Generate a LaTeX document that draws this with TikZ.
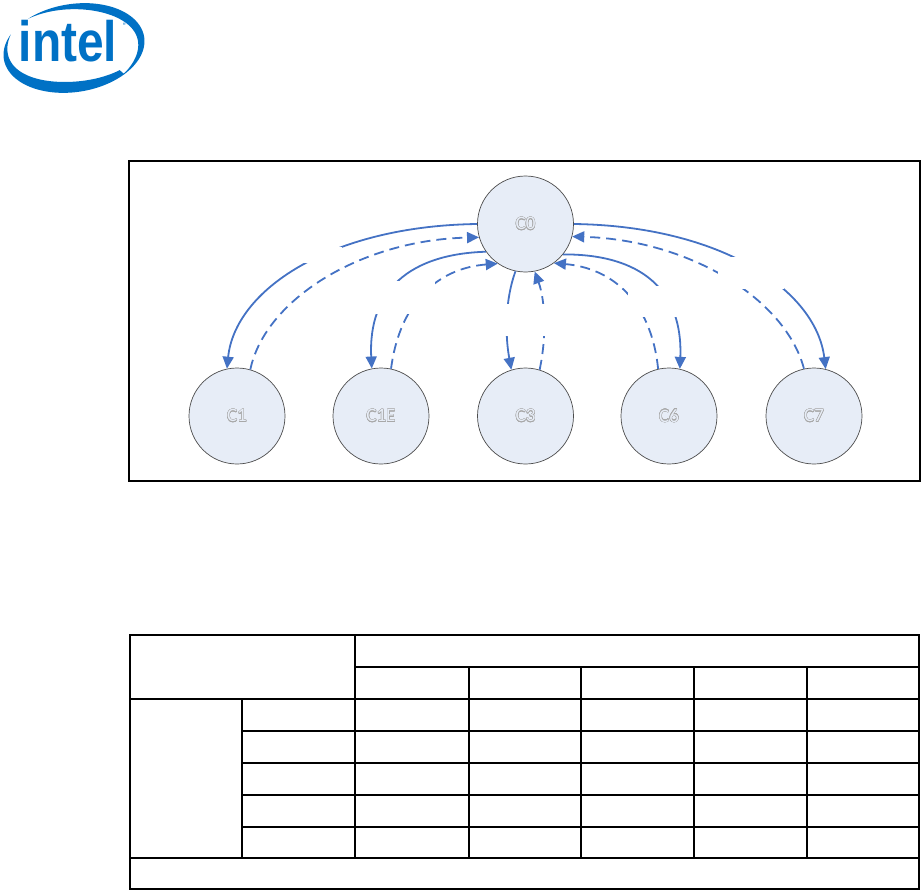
\documentclass[tikz,border=0pt]{standalone}
\usepackage{fontspec}
\setmainfont{Carlito}
\newfontfamily\intelfont{Liberation Sans}
\usepackage{contour}
\contourlength{0.4pt}
\usetikzlibrary{arrows.meta}
\definecolor{intelblue}{HTML}{0071C5}
\definecolor{arrowblue}{HTML}{4472C4}
\definecolor{statefill}{HTML}{E7EDF7}
\definecolor{statetext}{HTML}{A8A8A8}
\begin{document}
\begin{tikzpicture}[x=1pt,y=-1pt,
  state/.style={circle, draw=black!70, line width=0.7pt, fill=statefill,
    minimum size=96pt, inner sep=0pt, font=\fontsize{19}{19}\selectfont},
  solidarrow/.style={draw=arrowblue, line width=1.8pt,
    -{Triangle[length=12pt,width=11pt]}},
  dasharrow/.style={solidarrow, dash pattern=on 10pt off 6pt},
  gapbox/.style={fill=white, inner sep=0pt},
  frameline/.style={draw=black, line width=1.3pt},
  gridline/.style={draw=black, line width=1.3pt}]
\useasboundingbox (0,0) rectangle (922,891);

% ---- logo ----
\fill[intelblue]
  plot[domain=235:410,samples=70,variable=\t]
    ({74+71*cos(\t)*0.988+44*sin(\t)*0.156},{48-71*cos(\t)*0.156+44*sin(\t)*0.988})
  -- plot[domain=410:235,samples=70,variable=\t]
    ({74+(71-8.5*sin(\t-235))*cos(\t)*0.988+(44-8.5*sin(\t-235))*sin(\t)*0.156},
     {48-(71-8.5*sin(\t-235))*cos(\t)*0.156+(44-8.5*sin(\t-235))*sin(\t)*0.988})
  -- cycle;
\fill[intelblue]
  plot[domain=50:212,samples=70,variable=\t]
    ({74+71*cos(\t)*0.988+44*sin(\t)*0.156},{48-71*cos(\t)*0.156+44*sin(\t)*0.988})
  -- plot[domain=212:50,samples=70,variable=\t]
    ({74+(71-11*sin((212-\t)*0.9))*cos(\t)*0.988+(44-11*sin((212-\t)*0.9))*sin(\t)*0.156},
     {48-(71-11*sin((212-\t)*0.9))*cos(\t)*0.156+(44-11*sin((212-\t)*0.9))*sin(\t)*0.988})
  -- cycle;
\node[anchor=base west, inner sep=0pt, text=intelblue,
  font=\intelfont\bfseries\fontsize{57}{57}\selectfont] (logotext) at (18.5,62)
  {\scalebox{0.84}[1]{intel}};
\node[inner sep=0pt, text=intelblue, font=\fontsize{8}{8}\selectfont] (logoreg) at (125,26) {®};

% ---- state diagram ----
\draw[frameline] (129,161) rectangle (920,481);
\node[state] (c0)  at (525.5,224) {\contour{statetext}{\textcolor{statefill}{C0}}};
\node[state] (c1)  at (237,416) {\contour{statetext}{\textcolor{statefill}{C1}}};
\node[state] (c1e) at (381,416) {\contour{statetext}{\textcolor{statefill}{C1E}}};
\node[state] (c3)  at (525.5,416) {\contour{statetext}{\textcolor{statefill}{C3}}};
\node[state] (c6)  at (669,416) {\contour{statetext}{\textcolor{statefill}{C6}}};
\node[state] (c7)  at (814,416) {\contour{statetext}{\textcolor{statefill}{C7}}};

\draw[solidarrow] (c0.180) .. controls (330,226) and (235,290) .. (c1.102);
\draw[dasharrow]  (c1.74) .. controls (265,300) and (360,240) .. (c0.196);
\draw[solidarrow] (c0.215) .. controls (410,254) and (368,290) .. (c1e.101);
\draw[dasharrow]  (c1e.78) .. controls (400,300) and (440,268) .. (c0.235);
\draw[solidarrow] (c0.258) .. controls (505,300) and (505,335) .. (c3.107);
\draw[dasharrow]  (c3.73) .. controls (547,335) and (545,300) .. (c0.281);
\draw[solidarrow] (c0.321) .. controls (641,254) and (683,290) .. (c6.77);
\draw[dasharrow]  (c6.103) .. controls (651,300) and (611,268) .. (c0.306);
\draw[solidarrow] (c0.0) .. controls (721,226) and (816,290) .. (c7.76);
\draw[dasharrow]  (c7.102) .. controls (786,300) and (691,240) .. (c0.345);

\node[gapbox, minimum width=40pt, minimum height=16pt] (gap1) at (322,254.5) {};
\node[gapbox, minimum width=64pt, minimum height=33pt] (gap2) at (403,297.5) {};
\node[gapbox, minimum width=54pt, minimum height=32pt] (gap3) at (525,320) {};
\node[gapbox, minimum width=56pt, minimum height=31pt] (gap4) at (656,301.5) {};
\node[gapbox, minimum width=66pt, minimum height=32pt] (gap5) at (751,273) {};

% ---- table ----
\draw[gridline] (130,635) rectangle (919,889);
\draw[gridline] (355,667) -- (919,667);
\draw[gridline] (130,699) -- (919,699);
\draw[gridline] (242,731) -- (919,731);
\draw[gridline] (242,763) -- (919,763);
\draw[gridline] (242,795) -- (919,795);
\draw[gridline] (242,827) -- (919,827);
\draw[gridline] (130,858) -- (919,858);
\draw[gridline] (355,635) -- (355,858);
\draw[gridline] (242,699) -- (242,858);
\draw[gridline] (469,667) -- (469,858);
\draw[gridline] (581,667) -- (581,858);
\draw[gridline] (694,667) -- (694,858);
\draw[gridline] (807,667) -- (807,858);
\end{tikzpicture}
\end{document}
